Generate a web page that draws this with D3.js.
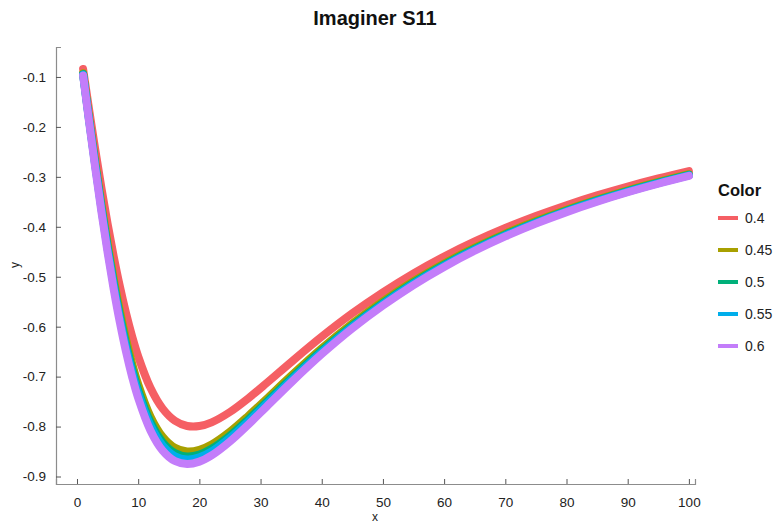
<!DOCTYPE html>
<html>
<head>
<meta charset="utf-8">
<script src="https://cdn.jsdelivr.net/npm/d3@7"></script>
<style>
  html, body { margin: 0; padding: 0; background: #fff; }
  svg { display: block; font-family: "Liberation Sans", Arial, sans-serif; }
</style>
</head>
<body>
<svg id="chart" width="774" height="524"></svg>
<script>
// ---- data ----
const title = "Imaginer S11";
const xLabel = "x";
const yLabel = "y";
const legendTitle = "Color";
const categories = ["0.4", "0.45", "0.5", "0.55", "0.6"];
const colors = ["#F55F64", "#A8A000", "#00B07A", "#00AEEB", "#C37DFA"];

const xValues = [1, 2, 3, 4, 5, 6, 7, 8, 9, 10, 12, 14, 16, 18, 20, 22, 25, 28, 31, 35, 40, 45, 50, 55, 60, 65, 70, 75, 80, 85, 90, 95, 100];

const series04 = [-0.0840, -0.1666, -0.2465, -0.3225, -0.3938, -0.4594, -0.5190, -0.5722, -0.6190, -0.6594, -0.7224, -0.7641, -0.7883, -0.7988, -0.7990, -0.7915, -0.7708, -0.7434, -0.7129, -0.6709, -0.6201, -0.5733, -0.5313, -0.4933, -0.4595, -0.4294, -0.4025, -0.3784, -0.3567, -0.3371, -0.3194, -0.3032, -0.2884];
const series045 = [-0.0926, -0.1837, -0.2715, -0.3547, -0.4323, -0.5034, -0.5674, -0.6240, -0.6733, -0.7153, -0.7796, -0.8204, -0.8424, -0.8499, -0.8467, -0.8359, -0.8103, -0.7786, -0.7444, -0.6983, -0.6434, -0.5935, -0.5490, -0.5089, -0.4734, -0.4419, -0.4137, -0.3886, -0.3659, -0.3455, -0.3270, -0.3102, -0.2947];
const series05 = [-0.0943, -0.1870, -0.2763, -0.3610, -0.4398, -0.5119, -0.5768, -0.6340, -0.6838, -0.7262, -0.7906, -0.8313, -0.8529, -0.8598, -0.8560, -0.8445, -0.8180, -0.7855, -0.7505, -0.7036, -0.6479, -0.5974, -0.5524, -0.5119, -0.4762, -0.4443, -0.4159, -0.3906, -0.3678, -0.3472, -0.3285, -0.3116, -0.2961];
const series055 = [-0.0954, -0.1890, -0.2793, -0.3648, -0.4444, -0.5171, -0.5825, -0.6402, -0.6903, -0.7329, -0.7975, -0.8380, -0.8593, -0.8659, -0.8617, -0.8498, -0.8227, -0.7897, -0.7543, -0.7069, -0.6507, -0.5998, -0.5545, -0.5138, -0.4778, -0.4458, -0.4173, -0.3918, -0.3689, -0.3482, -0.3295, -0.3125, -0.2969];
const series06 = [-0.0969, -0.1921, -0.2838, -0.3706, -0.4513, -0.5250, -0.5912, -0.6495, -0.7000, -0.7429, -0.8077, -0.8481, -0.8690, -0.8750, -0.8702, -0.8577, -0.8298, -0.7960, -0.7599, -0.7118, -0.6549, -0.6034, -0.5577, -0.5166, -0.4803, -0.4480, -0.4193, -0.3936, -0.3706, -0.3498, -0.3309, -0.3138, -0.2981];

const xTicks = [0, 10, 20, 30, 40, 50, 60, 70, 80, 90, 100];
const yTicks = [-0.1, -0.2, -0.3, -0.4, -0.5, -0.6, -0.7, -0.8, -0.9];

// ---- build ----
const allSeries = [series04, series045, series05, series055, series06];
const svg = d3.select("#chart");

const x = d3.scaleLinear().domain([-3.43, 101]).range([56, 695]);
const y = d3.scaleLinear().domain([-0.915, -0.04]).range([484, 47]);

const axisColor = "#8c8c8c";
const textColor = "#222";

// axes
const gx = svg.append("g").attr("transform", `translate(0,${y.range()[0]})`)
  .call(d3.axisBottom(x).tickValues(xTicks).tickSize(-5).tickPadding(13).tickFormat(d3.format("d")));
const gy = svg.append("g").attr("transform", `translate(${x.range()[0]},0)`)
  .call(d3.axisLeft(y).tickValues(yTicks).tickSize(-5).tickPadding(10).tickFormat(d => d.toFixed(1)));

[gx, gy].forEach(g => {
  g.select(".domain").attr("stroke", axisColor).attr("stroke-width", 1.2);
  g.selectAll(".tick line").attr("stroke", "#555").attr("stroke-width", 1);
  g.selectAll(".tick text").attr("fill", textColor).style("font-size", "13.5px")
    .style("font-family", "'Liberation Sans', Arial, sans-serif");
});

// curves
const line = d3.line()
  .x(d => x(d[0]))
  .y(d => y(d[1]))
  .curve(d3.curveCatmullRom.alpha(0.5));

allSeries.forEach((s, i) => {
  const pts = xValues.map((xv, j) => [xv, s[j]]);
  svg.append("path")
    .datum(pts)
    .attr("d", line)
    .attr("fill", "none")
    .attr("stroke", colors[i])
    .attr("stroke-width", 8)
    .attr("stroke-linecap", "round")
    .attr("stroke-linejoin", "round");
});

// title
svg.append("text")
  .attr("x", 375).attr("y", 25)
  .attr("text-anchor", "middle")
  .style("font-size", "20px").style("font-weight", "bold")
  .attr("fill", "#111")
  .text(title);

// axis labels
svg.append("text")
  .attr("x", 375).attr("y", 521)
  .attr("text-anchor", "middle")
  .style("font-size", "12px").attr("fill", textColor)
  .text(xLabel);
svg.append("text")
  .attr("transform", "translate(19,265) rotate(-90)")
  .attr("text-anchor", "middle")
  .style("font-size", "12px").attr("fill", textColor)
  .text(yLabel);

// legend
const lg = svg.append("g");
lg.append("text")
  .attr("x", 718).attr("y", 196)
  .style("font-size", "16.5px").style("font-weight", "bold").attr("fill", "#111")
  .text(legendTitle);
categories.forEach((c, i) => {
  const yy = 218 + i * 32;
  lg.append("line")
    .attr("x1", 718).attr("x2", 738).attr("y1", yy).attr("y2", yy)
    .attr("stroke", colors[i]).attr("stroke-width", 4);
  lg.append("text")
    .attr("x", 745).attr("y", yy + 5)
    .style("font-size", "14px").attr("fill", textColor)
    .text(c);
});
</script>
</body>
</html>
